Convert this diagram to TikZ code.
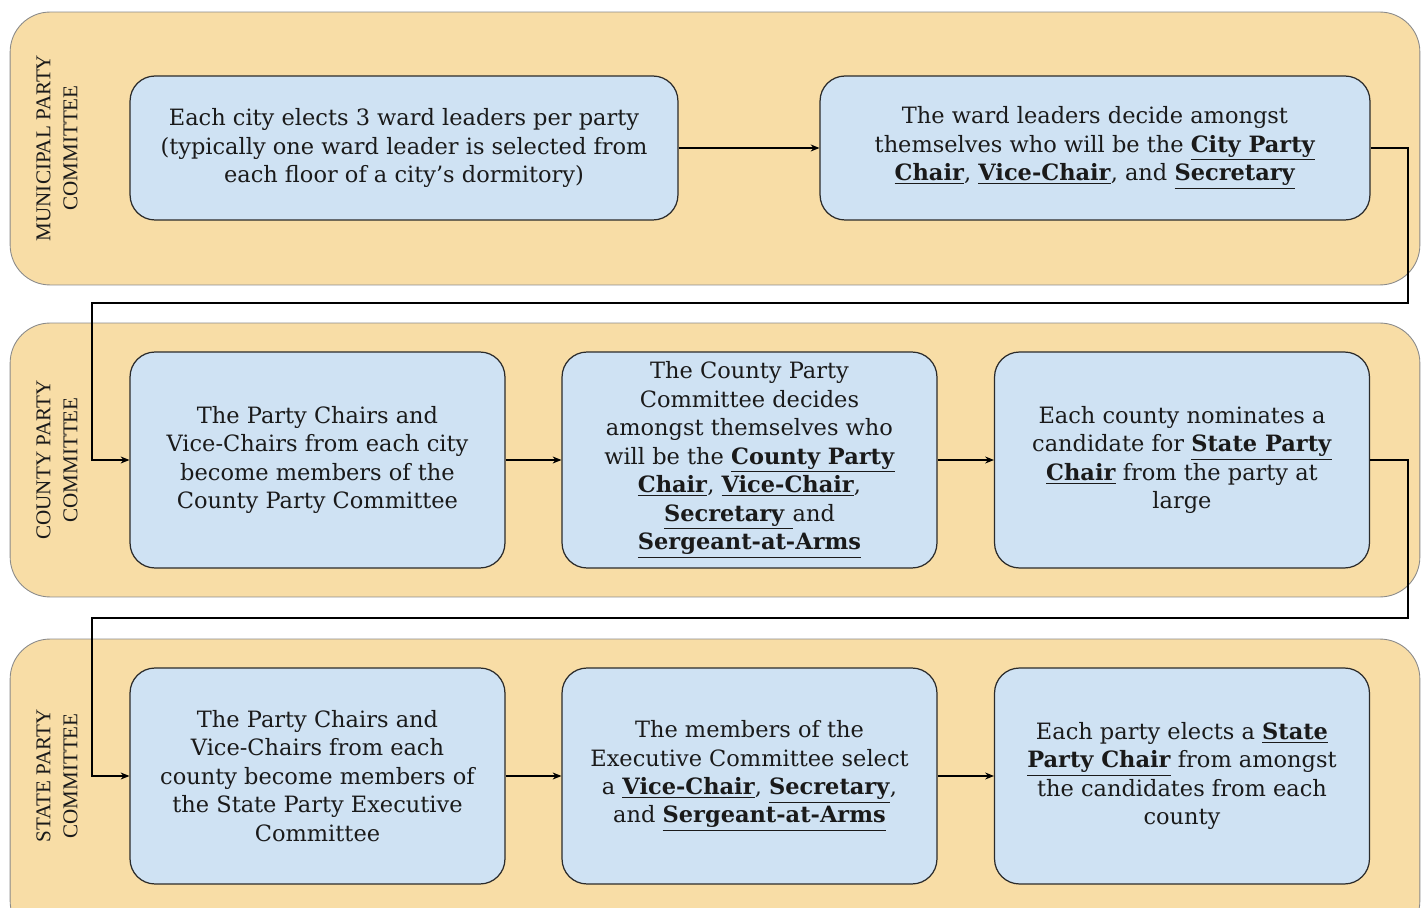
\documentclass[tikz,border=0pt]{standalone}
\usepackage{fontspec}
\setmainfont{DejaVu Serif}
\newfontfamily\lanefont{Liberation Serif}
\usetikzlibrary{arrows.meta, positioning}
\definecolor{lanetan}{HTML}{F8DDA6}
\definecolor{laneedge}{HTML}{8A8A8A}
\definecolor{boxblue}{HTML}{CFE2F3}
\definecolor{boxedge}{HTML}{2B2B2B}
\definecolor{inkgray}{HTML}{1A1A1A}
\newcommand{\bu}[1]{\underline{\textbf{#1}}}

\begin{document}
\begin{tikzpicture}[x=0.02cm, y=-0.02cm,
  lane/.style={rectangle, rounded corners=0.8cm, minimum width=28.2cm, draw=laneedge, line width=0.5pt, fill=lanetan},
  lanelabel/.style={rotate=90, align=center, font=\lanefont\fontsize{12}{15.3}\selectfont, text=inkgray},
  stepbox/.style={rectangle, rounded corners=0.5cm, draw=boxedge, line width=0.7pt, fill=boxblue, align=center, text=inkgray, font=\fontsize{12.8}{16.2}\selectfont},
  wide/.style={minimum width=11cm, minimum height=2.88cm},
  tall/.style={minimum width=7.5cm, minimum height=4.32cm},
  flow/.style={draw=black, line width=0.6pt, -{Stealth[length=5pt,width=4pt]}}]
\useasboundingbox (0,0) rectangle (1424,908);

% Committee lanes
\node[lane, minimum height=5.46cm] (municipal) at (715,148.5) {};
\node[lane, minimum height=5.48cm] (county) at (715,460) {};
\node[lane, minimum height=6.04cm] (state) at (715,790) {};

\node[lanelabel] (municipallbl) at (57,148) {MUNICIPAL PARTY\\COMMITTEE};
\node[lanelabel] (countylbl) at (57,460) {COUNTY PARTY\\COMMITTEE};
\node[lanelabel] (statelbl) at (57,776) {STATE PARTY\\COMMITTEE};

% Municipal steps
\node[stepbox, wide, minimum width=10.96cm] (wardelect) at (404,148) {Each city elects 3 ward leaders per party\\(typically one ward leader is selected from\\each floor of a city’s dormitory)};
\node[stepbox, wide] (citychair) at (1095,148) {The ward leaders decide amongst\\themselves who will be the \bu{City Party}\\\bu{Chair}, \bu{Vice-Chair}, and \bu{Secretary}};

% County steps
\node[stepbox, tall] (countymembers) at (317.5,460) {The Party Chairs and\\Vice-Chairs from each city\\become members of the\\County Party Committee};
\node[stepbox, tall] (countychair) at (749.5,460) {The County Party\\Committee decides\\amongst themselves who\\will be the \bu{County Party}\\\bu{Chair}, \bu{Vice-Chair},\\\bu{Secretary }and\\\bu{Sergeant-at-Arms}};
\node[stepbox, tall] (nominate) at (1182,460) {Each county nominates a\\candidate for \bu{State Party}\\\bu{Chair} from the party at\\large};

% State steps
\node[stepbox, tall] (statemembers) at (317.5,776) {The Party Chairs and\\Vice-Chairs from each\\county become members of\\the State Party Executive\\Committee};
\node[stepbox, tall] (execselect) at (749.5,776) {The members of the\\Executive Committee select\\a \bu{Vice-Chair}, \bu{Secretary},\\and \bu{Sergeant-at-Arms}};
\node[stepbox, tall] (statechair) at (1182,776) {Each party elects a \bu{State}\\\bu{Party Chair} from amongst\\the candidates from each\\county};

% Arrows
\draw[flow] (wardelect) -- (citychair);
\draw[flow] (citychair.east) -| (1408,303) -- (92,303) |- (countymembers.west);
\draw[flow] (countymembers) -- (countychair);
\draw[flow] (countychair) -- (nominate);
\draw[flow] (nominate.east) -| (1408,618) -- (92,618) |- (statemembers.west);
\draw[flow] (statemembers) -- (execselect);
\draw[flow] (execselect) -- (statechair);
\end{tikzpicture}
\end{document}
